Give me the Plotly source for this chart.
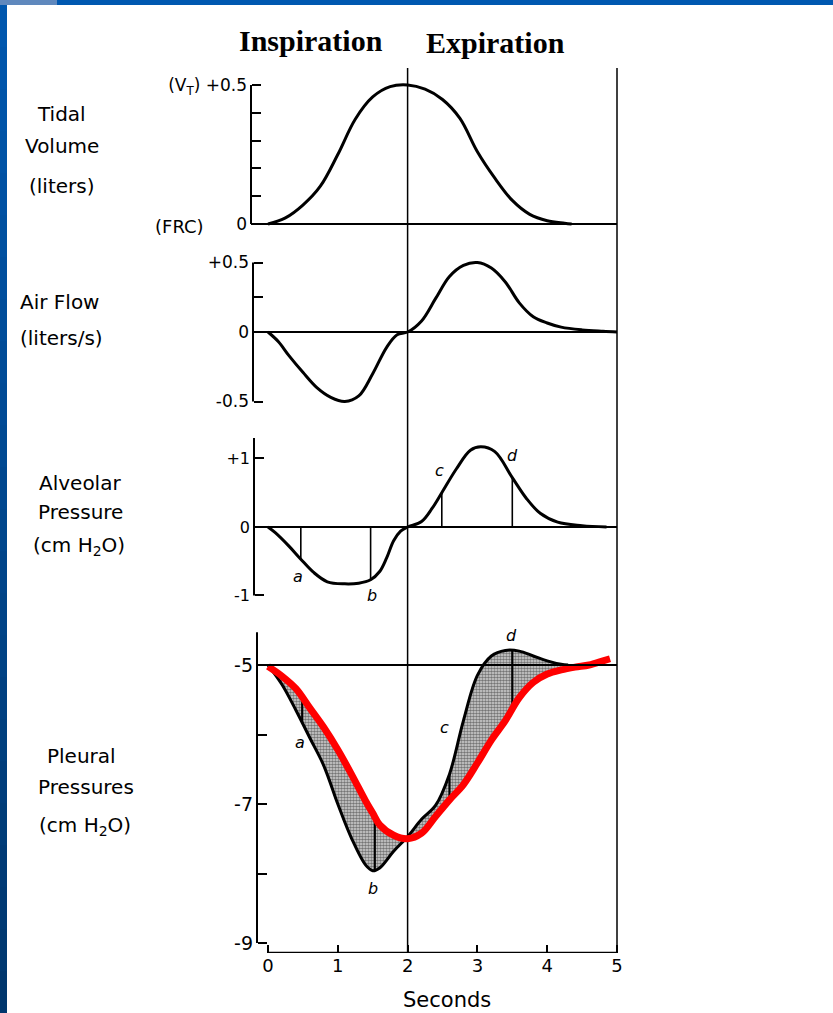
import numpy as np
import plotly.graph_objects as go

# ---------------- data ----------------
tv_t = [0, 0.25, 0.5, 0.75, 1.0, 1.25, 1.5, 1.75, 2.0, 2.25, 2.5, 2.75, 3.0, 3.25, 3.5, 3.75, 4.0, 4.25, 4.35]
tidal_volume = [0, 0.022, 0.068, 0.136, 0.25, 0.377, 0.457, 0.494, 0.5, 0.485, 0.448, 0.38, 0.26, 0.165, 0.085, 0.035, 0.012, 0.003, 0]

af_t = [0, 0.15, 0.3, 0.5, 0.7, 0.9, 1.1, 1.3, 1.5, 1.7, 1.85, 2.0, 2.2, 2.4, 2.6, 2.8, 3.0, 3.2, 3.4, 3.6, 3.8, 4.0, 4.2, 4.5, 4.8, 5.0]
air_flow = [0, -0.07, -0.17, -0.29, -0.4, -0.47, -0.5, -0.46, -0.3, -0.11, -0.02, 0, 0.08, 0.24, 0.4, 0.48, 0.5, 0.46, 0.36, 0.21, 0.11, 0.065, 0.035, 0.015, 0.005, 0]

ap_t = [0, 0.1, 0.3, 0.47, 0.65, 0.85, 1.1, 1.3, 1.47, 1.6, 1.7, 1.8, 1.9, 2.0, 2.2, 2.35, 2.49, 2.7, 2.9, 3.05, 3.25, 3.5, 3.7, 3.9, 4.15, 4.5, 4.85]
alveolar = [0, -0.08, -0.28, -0.47, -0.66, -0.8, -0.83, -0.82, -0.77, -0.65, -0.45, -0.2, -0.06, 0, 0.08, 0.27, 0.5, 0.85, 1.12, 1.17, 1.1, 0.72, 0.42, 0.2, 0.07, 0.02, 0]
ap_mark_t = [0.47, 1.47, 2.49, 3.5]

pl_t = [0, 0.2, 0.4, 0.6, 0.8, 1.0, 1.2, 1.4, 1.5, 1.6, 1.8, 2.0, 2.2, 2.4, 2.6, 2.8, 3.0, 3.2, 3.4, 3.6, 3.8, 4.0, 4.2, 4.3]
pleural_actual = [-5.0, -5.28, -5.65, -6.05, -6.45, -7.0, -7.5, -7.88, -7.96, -7.92, -7.68, -7.47, -7.22, -7.02, -6.57, -5.8, -5.15, -4.87, -4.79, -4.8, -4.87, -4.94, -4.99, -5.0]
pe_t = [0, 0.2, 0.4, 0.6, 0.8, 1.0, 1.2, 1.4, 1.5, 1.6, 1.8, 2.0, 2.2, 2.4, 2.6, 2.8, 3.0, 3.2, 3.4, 3.6, 3.8, 4.0, 4.2, 4.4, 4.6, 4.8, 4.9]
pleural_red = [-5.02, -5.16, -5.34, -5.62, -5.9, -6.22, -6.58, -6.96, -7.13, -7.3, -7.45, -7.5, -7.42, -7.18, -6.94, -6.72, -6.41, -6.08, -5.8, -5.47, -5.25, -5.13, -5.07, -5.03, -5.0, -4.94, -4.91]
pl_mark_t = [0.49, 1.53, 2.6, 3.5]

mark_letters = ["a", "b", "c", "d"]
ap_letter_pos = [(0.43, -0.72), (1.49, -1.0), (2.46, 0.83), (3.5, 1.05)]
pl_letter_pos = [(0.46, -6.12), (1.5, -8.22), (2.53, -5.9), (3.49, -4.57)]

x_ticks = [0, 1, 2, 3, 4, 5]

# ---------------- geometry helpers ----------------
W, H = 833, 1013          # target picture size
H_LAYOUT = H + 8          # the page renders the figure 8px shorter than requested
def px(x):
    return x / W
def py(y):
    return 1 - y / H

X0PX, SPS = 268.0, 69.8
def t_of(pxx):
    return (pxx - X0PX) / SPS

FONT = "DejaVu Sans"
fig = go.Figure()

# shaded region (pleural)
el_on_pl = np.interp(pl_t, pe_t, pleural_red)
poly_x = list(pl_t) + list(pl_t[::-1])
poly_y = list(pleural_actual) + list(el_on_pl[::-1])
fig.add_trace(go.Scatter(x=poly_x, y=poly_y, xaxis="x", yaxis="y4", mode="lines",
                         line=dict(width=0, color="rgba(0,0,0,0)"), fill="toself",
                         fillcolor="rgba(120,120,120,0.7)",
                         fillpattern=dict(shape=".", fgcolor="#111", bgcolor="#d8d8d8", size=3, solidity=0.6),
                         hoverinfo="skip", showlegend=False))

lw = 3
fig.add_trace(go.Scatter(x=tv_t, y=tidal_volume, xaxis="x", yaxis="y", mode="lines",
                         line=dict(color="black", width=lw, shape="spline", smoothing=1), showlegend=False))
fig.add_trace(go.Scatter(x=af_t, y=air_flow, xaxis="x", yaxis="y2", mode="lines",
                         line=dict(color="black", width=lw, shape="spline", smoothing=1), showlegend=False))
fig.add_trace(go.Scatter(x=ap_t, y=alveolar, xaxis="x", yaxis="y3", mode="lines",
                         line=dict(color="black", width=lw, shape="spline", smoothing=1), showlegend=False))

# alveolar vertical marks
vx, vy = [], []
for t in ap_mark_t:
    vx += [t, t, None]
    vy += [0, float(np.interp(t, ap_t, alveolar)), None]
fig.add_trace(go.Scatter(x=vx, y=vy, xaxis="x", yaxis="y3", mode="lines",
                         line=dict(color="black", width=1.6), showlegend=False))

# pleural vertical marks
vx, vy = [], []
for t in pl_mark_t:
    vx += [t, t, None]
    vy += [float(np.interp(t, pl_t, pleural_actual)), float(np.interp(t, pe_t, pleural_red)), None]
fig.add_trace(go.Scatter(x=vx, y=vy, xaxis="x", yaxis="y4", mode="lines",
                         line=dict(color="black", width=2.2), showlegend=False))

fig.add_trace(go.Scatter(x=pl_t, y=pleural_actual, xaxis="x", yaxis="y4", mode="lines",
                         line=dict(color="black", width=lw, shape="spline", smoothing=1), showlegend=False))
fig.add_trace(go.Scatter(x=pe_t, y=pleural_red, xaxis="x", yaxis="y4", mode="lines",
                         line=dict(color="#ff0000", width=7, shape="spline", smoothing=1), showlegend=False))

# ---------------- axes ----------------
xr = [t_of(250), t_of(625)]
panels = {
    "y":  dict(top=70,  bot=226, rng=[-0.007, 0.554], pos=251),
    "y2": dict(top=245, bot=415, rng=[-0.597, 0.626], pos=253),
    "y3": dict(top=425, bot=605, rng=[-1.139, 1.489], pos=254),
    "y4": dict(top=625, bot=953, rng=[-9.144, -4.424], pos=257),
}

layout = dict(
    width=W, height=H_LAYOUT, autosize=False,
    margin=dict(l=0, r=0, t=0, b=0),
    paper_bgcolor="white", plot_bgcolor="rgba(0,0,0,0)",
    showlegend=False,
    xaxis=dict(domain=[px(250), px(625)], range=xr, anchor="y4", showgrid=False, zeroline=False,
               showline=False, ticks="inside", ticklen=8, tickwidth=2, tickcolor="black",
               tickvals=x_ticks, ticktext=[str(v) for v in x_ticks],
               tickfont=dict(family=FONT, size=18, color="black")),
)
ytick_specs = {
    "y":  dict(vals=[0, 0.5], text=["0", "(V<sub>T</sub>) +0.5"], minor=[0.1, 0.2, 0.3, 0.4], size=17),
    "y2": dict(vals=[-0.5, 0, 0.5], text=["-0.5", "0", "+0.5"], minor=[0.25], size=17),
    "y3": dict(vals=[-1, 0, 1], text=["-1", "0", "+1"], minor=[], size=16),
    "y4": dict(vals=[-9, -7, -5], text=["-9", "-7", "-5"], minor=[-8, -6], size=19),
}
for k, p in panels.items():
    name = "yaxis" if k == "y" else "yaxis" + k[1:]
    s = ytick_specs[k]
    ax = dict(domain=[py(p["bot"]), py(p["top"])], range=p["rng"], anchor="free",
              position=px(p["pos"]), showgrid=False, zeroline=False, showline=False,
              ticks="inside", ticklen=9, tickwidth=2, tickcolor="black",
              tickvals=s["vals"], ticktext=s["text"], ticklabelstandoff=4,
              tickfont=dict(family=FONT, size=s["size"], color="black"))
    if s["minor"]:
        ax["minor"] = dict(tickvals=s["minor"], ticks="inside", ticklen=9, tickwidth=2,
                           tickcolor="black", showgrid=False)
    layout[name] = ax
fig.update_layout(**layout)

shapes = []
# spines
spine = {"y": (0, 0.5), "y2": (-0.5, 0.5), "y3": (-1, 1.3), "y4": (-9, -4.53)}
for k, (a, b) in spine.items():
    t = t_of(panels[k]["pos"])
    shapes.append(dict(type="line", xref="x", yref=k, x0=t, x1=t, y0=a, y1=b,
                       line=dict(color="black", width=2)))
# baselines
base = {"y": 0, "y2": 0, "y3": 0, "y4": -5}
for k, v in base.items():
    shapes.append(dict(type="line", xref="x", yref=k, x0=t_of(panels[k]["pos"]), x1=5, y0=v, y1=v,
                       line=dict(color="black", width=2)))
# x-axis line
shapes.append(dict(type="line", xref="x", yref="y4", x0=0, x1=5, y0=-9.144, y1=-9.144,
                   line=dict(color="black", width=2.5)))
# vertical reference lines at 2 s and 5 s
for t in [2, 5]:
    shapes.append(dict(type="line", xref="x", yref="paper", x0=t, x1=t, y0=py(953), y1=py(68),
                       line=dict(color="black", width=1.5), layer="below"))
# blue frame
shapes.append(dict(type="rect", xref="paper", yref="paper", x0=px(57), x1=1, y0=py(5), y1=1,
                   line=dict(width=0), fillcolor="#0058b0"))
shapes.append(dict(type="rect", xref="paper", yref="paper", x0=0, x1=px(57), y0=py(5), y1=1,
                   line=dict(width=0), fillcolor="#5f88bd"))
nb = 24
c0 = np.array([0x00, 0x58, 0xB0]); c1 = np.array([0x00, 0x36, 0x6C])
for i in range(nb):
    y0 = 5 + (H - 5) * i / nb
    y1 = 5 + (H - 5) * (i + 1) / nb
    c = c0 + (c1 - c0) * (i + 0.5) / nb
    shapes.append(dict(type="rect", xref="paper", yref="paper", x0=0, x1=px(7), y0=max(0, py(y1 + 0.5)), y1=py(y0),
                       line=dict(width=0), fillcolor="rgb(%d,%d,%d)" % tuple(c.astype(int))))
fig.update_layout(shapes=shapes)

ann = []
def txt(x, y, s, size=21, family=FONT, xanchor="center", **kw):
    ann.append(dict(x=px(x), y=py(y), xref="paper", yref="paper", text=s, showarrow=False,
                    xanchor=xanchor, yanchor="middle",
                    font=dict(family=family, size=size, color="black"), **kw))

txt(311, 40, "<b>Inspiration</b>", size=30, family="Liberation Serif")
txt(495, 42, "<b>Expiration</b>", size=30, family="Liberation Serif")
txt(62, 114, "Tidal", size=20)
txt(62, 146, "Volume", size=20)
txt(62, 186, "(liters)", size=20)
txt(18, 302, "Air Flow", size=20, xanchor="left")
txt(18, 338, "(liters/s)", size=20, xanchor="left")
txt(80, 483, "Alveolar", size=20)
txt(80, 512, "Pressure", size=20)
txt(79, 546, "(cm H<sub>2</sub>O)", size=20)
txt(81, 756, "Pleural", size=20)
txt(86, 787, "Pressures", size=20)
txt(85, 826, "(cm H<sub>2</sub>O)", size=20)
txt(179, 226, "(FRC)", size=18)
txt(447, 1000, "Seconds", size=21)

for (lx, ly), s in zip(ap_letter_pos, mark_letters):
    ann.append(dict(x=lx, y=ly, xref="x", yref="y3", text="<i>%s</i>" % s, showarrow=False,
                    font=dict(family=FONT, size=16, color="black")))
for (lx, ly), s in zip(pl_letter_pos, mark_letters):
    ann.append(dict(x=lx, y=ly, xref="x", yref="y4", text="<i>%s</i>" % s, showarrow=False,
                    font=dict(family=FONT, size=16, color="black")))
fig.update_layout(annotations=ann)

fig.write_html(
    "out.html",
    config={"displayModeBar": False, "responsive": False},
    post_script="document.body.style.margin='0';document.body.style.overflow='hidden';",
)
